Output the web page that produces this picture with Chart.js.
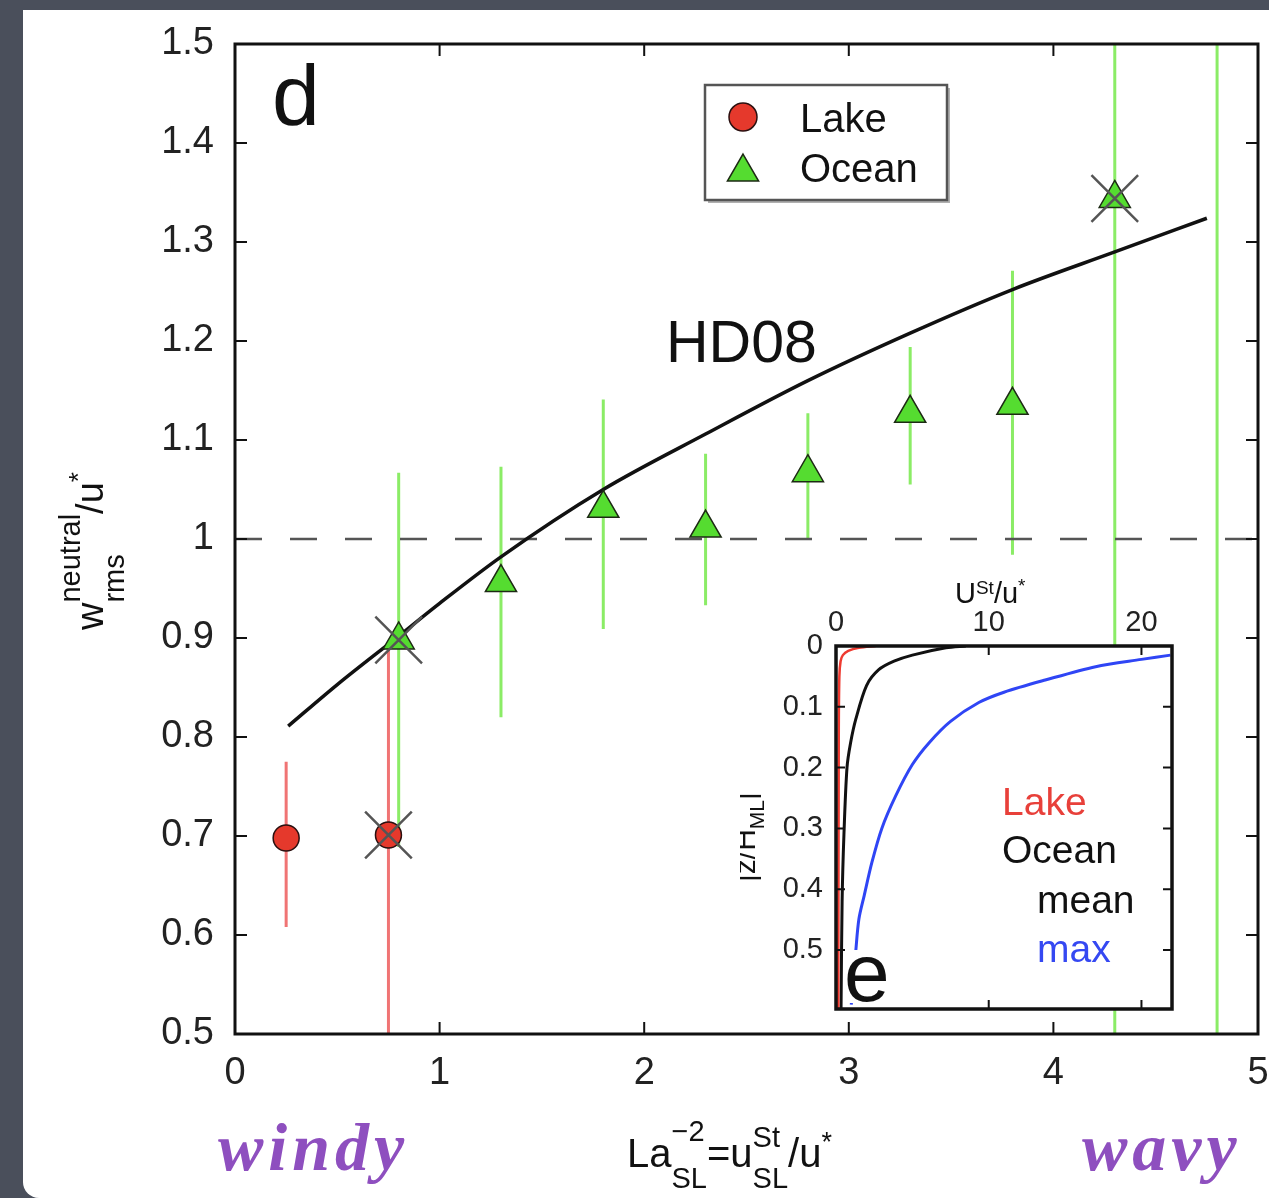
<!DOCTYPE html>
<html>
<head>
<meta charset="utf-8">
<title>w_rms neutral / u* versus La_SL^-2</title>
<script src="https://cdn.jsdelivr.net/npm/chart.js@4.4.1/dist/chart.umd.min.js"></script>
<style>
html,body{margin:0;padding:0;}
body{width:1269px;height:1198px;position:relative;overflow:hidden;background:#4a4f5b;}
#panel{position:absolute;left:23px;top:10px;width:1246px;height:1188px;background:#fff;border-bottom-left-radius:16px;}
#main{position:absolute;left:0;top:0;}
#inset{position:absolute;left:740px;top:570px;}
</style>
</head>
<body>
<div id="panel"></div>
<canvas id="main" width="1269" height="1198"></canvas>
<canvas id="inset" width="460" height="450"></canvas>
<script>
// ---------------- data (main panel d) ----------------
const xTicks = [0, 1, 2, 3, 4, 5];
const xTickLabels = ['0', '1', '2', '3', '4', '5'];
const yTicks = [0.5, 0.6, 0.7, 0.8, 0.9, 1.0, 1.1, 1.2, 1.3, 1.4, 1.5];
const yTickLabels = ['0.5', '0.6', '0.7', '0.8', '0.9', '1', '1.1', '1.2', '1.3', '1.4', '1.5'];

const lakeX  = [0.25, 0.75];
const lakeY  = [0.698, 0.701];
const lakeLo = [0.608, 0.40];
const lakeHi = [0.775, 0.896];

const oceanX  = [0.80, 1.30, 1.80, 2.30, 2.80, 3.30, 3.80, 4.30, 4.80];
const oceanY  = [0.898, 0.956, 1.031, 1.011, 1.067, 1.127, 1.135, 1.344, null];
const oceanLo = [0.689, 0.820, 0.909, 0.933, 1.000, 1.055, 0.984, 0.40, 0.40];
const oceanHi = [1.067, 1.073, 1.141, 1.086, 1.127, 1.194, 1.271, 1.60, 1.60];

const flaggedX = [0.75, 0.80, 4.30];
const flaggedY = [0.701, 0.898, 1.344];

const hd08X = [0.26, 0.50, 0.80, 1.00, 1.30, 1.80, 2.30, 2.80, 3.30, 3.80, 4.30, 4.75];
const hd08Y = [0.811, 0.853, 0.902, 0.935, 0.982, 1.050, 1.106, 1.160, 1.208, 1.252, 1.290, 1.324];

const refX = [0, 5];
const refY = [1, 1];

// ---------------- data (inset panel e) ----------------
const insetXTicks = [0, 10, 20];
const insetXTickLabels = ['0', '10', '20'];
const insetZTicks = [0, 0.1, 0.2, 0.3, 0.4, 0.5];
const insetZTickLabels = ['0', '0.1', '0.2', '0.3', '0.4', '0.5'];

const lakeProfU = [2.6, 1.5, 0.8, 0.45, 0.30, 0.22, 0.18, 0.15];
const lakeProfZ = [0, 0.003, 0.008, 0.015, 0.025, 0.05, 0.15, 0.597];
const meanProfU = [8.5, 7.2, 5.0, 3.8, 2.8, 2.0, 1.3, 0.95, 0.72, 0.52, 0.40, 0.33];
const meanProfZ = [0, 0.003, 0.015, 0.025, 0.039, 0.065, 0.12, 0.16, 0.20, 0.31, 0.42, 0.597];
const maxProfU  = [21.9, 20, 17, 13.7, 11, 9.35, 7.5, 6.1, 5.0, 3.9, 3.0, 2.35, 1.85, 1.5, 1.3, 1.0];
const maxProfZ  = [0.015, 0.022, 0.034, 0.056, 0.076, 0.093, 0.124, 0.159, 0.195, 0.247, 0.30, 0.356, 0.41, 0.449, 0.50, 0.59];

// ---------------- styles ----------------
const FONT = "'Liberation Sans', Arial, Helvetica, sans-serif";
const RED_FILL = '#e5392c', RED_BAR = '#f07474';
const GREEN_FILL = '#55dc30', GREEN_BAR = '#8bec66';
const INK = '#111';

const pts = (xs, ys) => xs.map((x, i) => ({ x: x, y: ys[i] }));
const noPad = s => { s.paddingLeft = 0; s.paddingRight = 0; s.paddingTop = 0; s.paddingBottom = 0; };

function rich(ctx, x, y, parts) {
  let cx = x;
  for (const p of parts) {
    ctx.font = p.size + 'px ' + FONT;
    if (p.stack) {
      const w1 = ctx.measureText(p.stack[0]).width, w2 = ctx.measureText(p.stack[1]).width;
      ctx.fillText(p.stack[0], cx, y + p.up);
      ctx.fillText(p.stack[1], cx, y + p.down);
      cx += Math.max(w1, w2);
    } else {
      ctx.fillText(p.t, cx, y + (p.dy || 0));
      cx += ctx.measureText(p.t).width;
    }
  }
}
function tri(ctx, x, y, r, fill) {
  ctx.beginPath();
  for (let k = 0; k < 3; k++) {
    const a = k * 2 * Math.PI / 3;
    const px = x + Math.sin(a) * r, py = y - Math.cos(a) * r;
    if (k) ctx.lineTo(px, py); else ctx.moveTo(px, py);
  }
  ctx.closePath(); ctx.fillStyle = fill; ctx.fill();
  ctx.lineWidth = 1.5; ctx.strokeStyle = '#1d2a14'; ctx.stroke();
}
function circ(ctx, x, y, r, fill) {
  ctx.beginPath(); ctx.arc(x, y, r, 0, Math.PI * 2);
  ctx.fillStyle = fill; ctx.fill(); ctx.lineWidth = 1.5; ctx.strokeStyle = '#2a1010'; ctx.stroke();
}
function frameAndTicks(chart, lw, tl, xt, yt) {
  const { ctx, chartArea: a, scales: { x, y } } = chart;
  ctx.save();
  ctx.strokeStyle = INK; ctx.lineWidth = 2;
  ctx.beginPath();
  for (const v of xt) {
    const px = x.getPixelForValue(v);
    ctx.moveTo(px, a.bottom); ctx.lineTo(px, a.bottom - tl);
    ctx.moveTo(px, a.top); ctx.lineTo(px, a.top + tl);
  }
  for (const v of yt) {
    const py = y.getPixelForValue(v);
    ctx.moveTo(a.left, py); ctx.lineTo(a.left + tl, py);
    ctx.moveTo(a.right, py); ctx.lineTo(a.right - tl, py);
  }
  ctx.stroke();
  ctx.lineWidth = lw;
  ctx.strokeRect(a.left, a.top, a.right - a.left, a.bottom - a.top);
  ctx.restore();
}

// ---------------- main chart plugin ----------------
const mainDecor = {
  id: 'mainDecor',
  beforeDatasetsDraw(chart) {
    const { ctx, chartArea: a, scales: { x, y } } = chart;
    ctx.save();
    ctx.beginPath(); ctx.rect(a.left, a.top, a.right - a.left, a.bottom - a.top); ctx.clip();
    ctx.lineWidth = 3;
    const bars = (xs, lo, hi, col) => {
      ctx.strokeStyle = col; ctx.beginPath();
      xs.forEach((v, i) => {
        const px = x.getPixelForValue(v);
        ctx.moveTo(px, y.getPixelForValue(lo[i])); ctx.lineTo(px, y.getPixelForValue(hi[i]));
      });
      ctx.stroke();
    };
    bars(lakeX, lakeLo, lakeHi, RED_BAR);
    bars(oceanX, oceanLo, oceanHi, GREEN_BAR);
    ctx.restore();
  },
  afterDatasetsDraw(chart) {
    frameAndTicks(chart, 3, 12, xTicks.slice(1, -1), yTicks.slice(1, -1));
  },
  afterDraw(chart) {
    const ctx = chart.ctx;
    ctx.save();
    ctx.fillStyle = INK; ctx.textBaseline = 'alphabetic'; ctx.textAlign = 'left';
    // panel letter
    ctx.font = '86px ' + FONT; ctx.fillText('d', 272, 125);
    // model label
    ctx.font = '59px ' + FONT; ctx.fillText('HD08', 666, 362);
    // legend
    ctx.fillStyle = '#fff'; ctx.fillRect(705, 85, 242, 115);
    ctx.strokeStyle = '#b0b0b0'; ctx.lineWidth = 2;
    ctx.beginPath(); ctx.moveTo(708, 202); ctx.lineTo(949, 202); ctx.lineTo(949, 88); ctx.stroke();
    ctx.strokeStyle = '#555'; ctx.lineWidth = 2.5; ctx.strokeRect(705, 85, 242, 115);
    circ(ctx, 743, 117, 14, RED_FILL);
    tri(ctx, 743, 172, 18, GREEN_FILL);
    ctx.fillStyle = INK; ctx.font = '40px ' + FONT;
    ctx.fillText('Lake', 800, 132);
    ctx.fillText('Ocean', 800, 182);
    // x-axis title
    rich(ctx, 627, 1167, [
      { t: 'La', size: 40 },
      { stack: ['\u22122', 'SL'], size: 29, up: -26, down: 21 },
      { t: '=u', size: 40 },
      { stack: ['St', 'SL'], size: 29, up: -20, down: 21 },
      { t: '/u', size: 40 },
      { t: '*', size: 27, dy: -16 }
    ]);
    // y-axis title (rotated)
    ctx.save();
    ctx.translate(103, 630); ctx.rotate(-Math.PI / 2);
    rich(ctx, 0, 0, [
      { t: 'w', size: 38 },
      { stack: ['neutral', 'rms'], size: 29, up: -23, down: 21 },
      { t: '/u', size: 38 },
      { t: '*', size: 26, dy: -16 }
    ]);
    ctx.restore();
    // hand-written annotations
    ctx.fillStyle = '#8e4fbf';
    ctx.font = 'italic bold 68px "Liberation Serif", serif';
    try { ctx.letterSpacing = '5px'; } catch (e) {}
    ctx.fillText('windy', 218, 1170);
    ctx.fillText('wavy', 1082, 1170);
    ctx.restore();
  }
};

new Chart(document.getElementById('main'), {
  type: 'scatter',
  data: {
    datasets: [
      { label: 'flagged', data: pts(flaggedX, flaggedY), pointStyle: 'crossRot', pointRadius: 33,
        borderColor: '#555', borderWidth: 2.5, backgroundColor: 'transparent', showLine: false, order: 0 },
      { label: 'Lake', data: pts(lakeX, lakeY), pointStyle: 'circle', pointRadius: 13,
        backgroundColor: RED_FILL, borderColor: '#2a1010', borderWidth: 1.5, showLine: false, order: 1 },
      { label: 'Ocean', data: pts(oceanX, oceanY), pointStyle: 'triangle', pointRadius: 18,
        backgroundColor: GREEN_FILL, borderColor: '#1d2a14', borderWidth: 1.5, showLine: false, order: 1 },
      { label: 'HD08', data: pts(hd08X, hd08Y), showLine: true, pointRadius: 0, borderColor: INK,
        borderWidth: 3.5, cubicInterpolationMode: 'monotone', fill: false, order: 2 },
      { label: 'ref', data: pts(refX, refY), showLine: true, pointRadius: 0, borderColor: '#555',
        borderWidth: 2.5, borderDash: [27, 28], fill: false, order: 3 }
    ]
  },
  options: {
    responsive: false, animation: false, events: [],
    layout: { autoPadding: false, padding: { left: 0, top: 44, right: 11, bottom: 0 } },
    plugins: { legend: { display: false }, tooltip: { enabled: false } },
    scales: {
      x: {
        type: 'linear', min: 0, max: 5,
        afterBuildTicks: s => { s.ticks = xTicks.map(v => ({ value: v })); },
        afterFit: s => { s.height = 164; noPad(s); },
        grid: { display: false, drawTicks: false }, border: { display: false },
        ticks: { font: { size: 38, family: FONT }, color: '#222', padding: 17, maxRotation: 0, autoSkip: false,
                 callback: (v, i) => xTickLabels[i] }
      },
      y: {
        type: 'linear', min: 0.5, max: 1.5,
        afterBuildTicks: s => { s.ticks = yTicks.map(v => ({ value: v })); },
        afterFit: s => { s.width = 235; noPad(s); },
        grid: { display: false, drawTicks: false }, border: { display: false },
        ticks: { font: { size: 38, family: FONT }, color: '#222', padding: 21, autoSkip: false,
                 callback: (v, i) => yTickLabels[i] }
      }
    }
  },
  plugins: [mainDecor]
});

// ---------------- inset chart ----------------
const insetDecor = {
  id: 'insetDecor',
  beforeDatasetsDraw(chart) {
    const { ctx, chartArea: a } = chart;
    ctx.save(); ctx.fillStyle = '#fff';
    ctx.fillRect(a.left, a.top, a.right - a.left, a.bottom - a.top);
    ctx.restore();
  },
  afterDatasetsDraw(chart) {
    const ctx = chart.ctx;
    ctx.save();
    ctx.fillStyle = '#fff'; ctx.fillRect(106, 380, 47, 53);
    ctx.fillStyle = INK; ctx.font = '82px ' + FONT; ctx.textBaseline = 'alphabetic';
    ctx.fillText('e', 104, 431);
    ctx.restore();
    frameAndTicks(chart, 3.5, 9, insetXTicks.slice(1), insetZTicks.slice(1));
  },
  afterDraw(chart) {
    const ctx = chart.ctx;
    ctx.save();
    ctx.textBaseline = 'alphabetic'; ctx.textAlign = 'left';
    ctx.font = '39px ' + FONT;
    ctx.fillStyle = '#e8403a'; ctx.fillText('Lake', 262, 245);
    ctx.fillStyle = INK; ctx.fillText('Ocean', 262, 293);
    ctx.fillText('mean', 297, 343);
    ctx.fillStyle = '#3548f2'; ctx.fillText('max', 297, 392);
    ctx.fillStyle = INK;
    rich(ctx, 215, 33, [
      { t: 'U', size: 29 },
      { t: 'St', size: 19, dy: -9 },
      { t: '/u', size: 29 },
      { t: '*', size: 19, dy: -11 }
    ]);
    ctx.save();
    ctx.translate(15, 312); ctx.rotate(-Math.PI / 2);
    rich(ctx, 0, 0, [
      { t: '|z/H', size: 30 },
      { t: 'ML', size: 21, dy: 9 },
      { t: '|', size: 30 }
    ]);
    ctx.restore();
    ctx.restore();
  }
};

new Chart(document.getElementById('inset'), {
  type: 'scatter',
  data: {
    datasets: [
      { label: 'Lake', data: pts(lakeProfU, lakeProfZ), showLine: true, pointRadius: 0,
        borderColor: '#ee3a30', borderWidth: 2.5, tension: 0.3, fill: false, order: 0 },
      { label: 'Ocean mean', data: pts(meanProfU, meanProfZ), showLine: true, pointRadius: 0,
        borderColor: INK, borderWidth: 3, tension: 0.3, fill: false, order: 1 },
      { label: 'Ocean max', data: pts(maxProfU, maxProfZ), showLine: true, pointRadius: 0,
        borderColor: '#2f45f5', borderWidth: 3, tension: 0.3, fill: false, order: 2 }
    ]
  },
  options: {
    responsive: false, animation: false, events: [],
    layout: { autoPadding: false, padding: { left: 0, top: 0, right: 28, bottom: 11 } },
    plugins: { legend: { display: false }, tooltip: { enabled: false } },
    scales: {
      x: {
        type: 'linear', position: 'top', min: 0, max: 22,
        afterBuildTicks: s => { s.ticks = insetXTicks.map(v => ({ value: v })); },
        afterFit: s => { s.height = 76; noPad(s); },
        grid: { display: false, drawTicks: false }, border: { display: false },
        ticks: { font: { size: 29, family: FONT }, color: '#222', padding: 6, maxRotation: 0, autoSkip: false,
                 callback: (v, i) => insetXTickLabels[i] }
      },
      y: {
        type: 'linear', reverse: true, min: 0, max: 0.597,
        afterBuildTicks: s => { s.ticks = insetZTicks.map(v => ({ value: v })); },
        afterFit: s => { s.width = 96; noPad(s); },
        grid: { display: false, drawTicks: false }, border: { display: false },
        ticks: { font: { size: 29, family: FONT }, color: '#222', padding: 13, autoSkip: false,
                 callback: (v, i) => insetZTickLabels[i] }
      }
    }
  },
  plugins: [insetDecor]
});
</script>
</body>
</html>
